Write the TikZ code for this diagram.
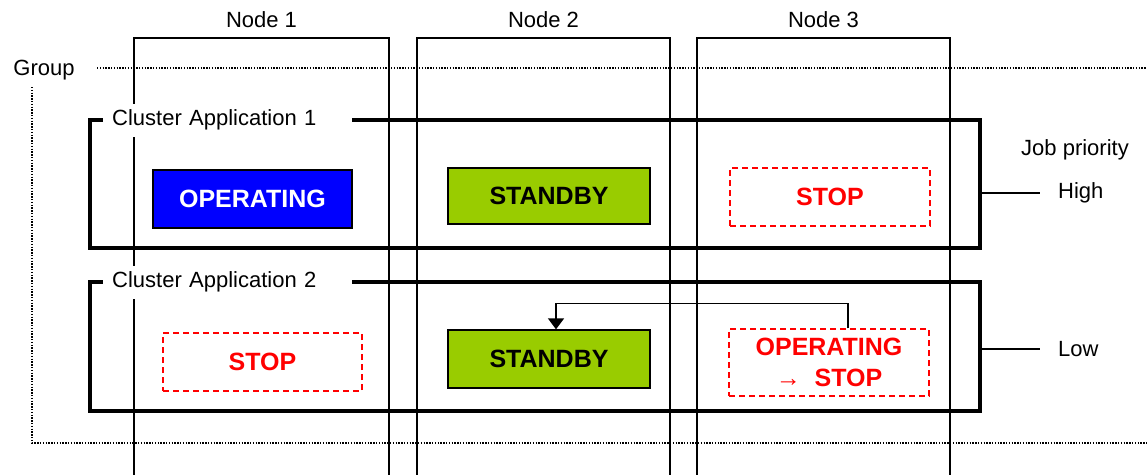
\documentclass[tikz,border=0pt]{standalone}
\usepackage{fontspec}
\setmainfont{Liberation Sans}
\usetikzlibrary{arrows.meta,positioning}
\definecolor{opblue}{RGB}{0,0,255}
\definecolor{sbgreen}{RGB}{153,204,0}
\definecolor{stred}{RGB}{255,0,0}
\tikzset{
  txt/.style ={font=\fontsize{22}{26}\selectfont,inner sep=0pt},
  col/.style ={draw,line width=1.5pt,minimum width=255pt,minimum height=460pt,
               inner sep=0pt},
  capp/.style={draw,line width=3.5pt,minimum width=890pt,inner sep=0pt},
  clab/.style={fill=white,font=\fontsize{22}{26}\selectfont,anchor=west,
               minimum width=249pt,text width=231pt,inner xsep=9pt,
               align=left,minimum height=33pt},
  st/.style  ={font=\fontsize{25}{28}\selectfont\bfseries,align=center,
               minimum width=200pt,minimum height=58pt,inner sep=0pt,
               line width=1.3pt},
  run/.style ={st,draw=black,fill=opblue,text=white},
  sby/.style ={st,draw=black,fill=sbgreen,text=black},
  stp/.style ={st,draw=stred,dashed,dash pattern=on 6pt off 4pt,fill=white,
               text=stred},
  dots/.style={line width=1.4pt,dash pattern=on 1.4pt off 1.4pt},
  ar/.style  ={line width=1.3pt,-{Triangle[length=11pt,width=16pt]}},
  pri/.style ={txt,anchor=west,inner xsep=18pt},
}

\begin{document}
\begin{tikzpicture}[x=1pt,y=-1pt]
\useasboundingbox (0,0) rectangle (1147,474);
\clip (0,0) rectangle (1147,474);
% nodes (machines)
\node[col] (N1) at (261.5,268) {};
\node[col,minimum width=253pt] (N2) at (543.5,268) {};
\node[col,minimum width=253pt] (N3) at (823.5,268) {};
\node[txt] (L1) at (261.5,20) {Node 1};
\node[txt] (L2) at (543.5,20) {Node 2};
\node[txt] (L3) at (823.5,20) {Node 3};
% group
\node[txt] (grp) at (44,70) {Group};
\coordinate (gR) at (1150,68);
\coordinate (gB) at (1150,443);
\draw[dots] (97,68) -- (gR);
\draw[dots] (32,87) |- (gB);
% cluster applications
\node[capp,minimum height=128pt] (ca1) at (535,184) {};
\node[capp,minimum height=129pt] (ca2) at (535,346.5) {};
\node[clab] (c1l) at (103,120) {Cluster Application 1};
\node[clab] (c2l) at (103,282) {Cluster Application 2};
% states
\node[run,minimum width=199pt] (op1) at (252.5,199) {OPERATING};
\node[sby,minimum width=202pt,minimum height=56pt] (sb1) at (549,196) {STANDBY};
\node[stp] (st1) at (830,197) {STOP};
\node[stp,minimum width=199pt] (st2) at (262.5,362) {STOP};
\node[sby,minimum width=202pt] (sb2) at (549,359) {STANDBY};
\node[stp,minimum height=67pt] (os2) at (829,362.5) {OPERATING\\[3pt]→\ \ STOP};
\draw[ar] ([xshift=19pt]os2.north) -- ++(0,-25) -| ([xshift=7pt]sb2.north);
% job priority
\node[txt] (jp) at (1075,150) {Job priority};
\node[pri] (hi) at (1040,193) {High};
\node[pri] (lo) at (1040,349) {Low};
\draw[line width=1.3pt] (ca1.east |- hi.west) -- (hi.west);
\draw[line width=1.3pt] (ca2.east |- lo.west) -- (lo.west);
\end{tikzpicture}
\end{document}
